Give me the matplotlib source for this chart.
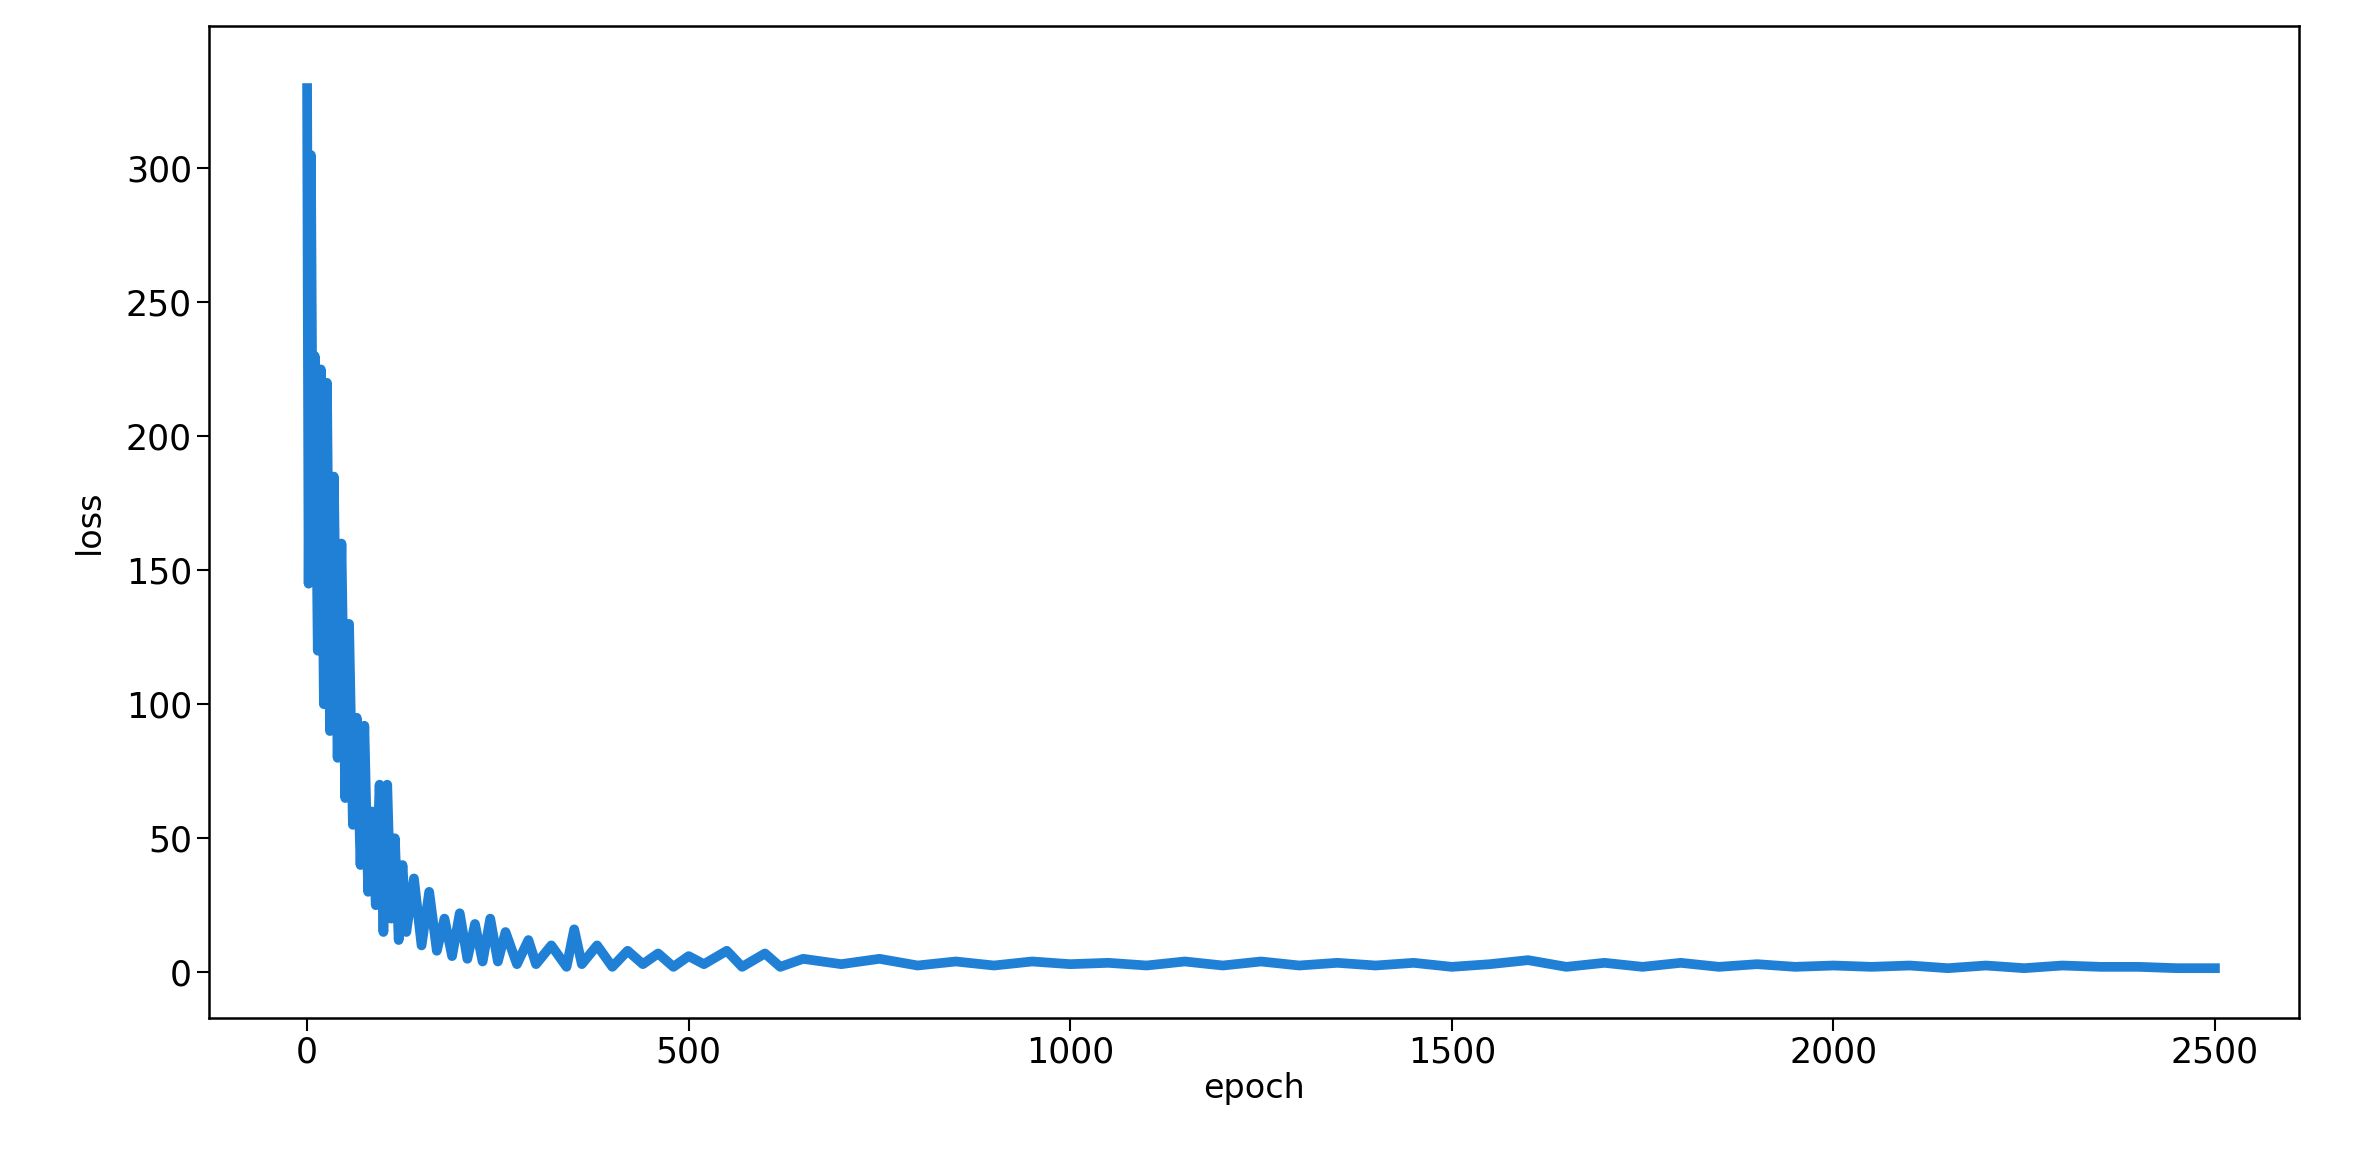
import matplotlib
matplotlib.use("Agg")
import matplotlib.pyplot as plt

epochs = [0, 2, 5, 8, 10, 14, 18, 22, 26, 30, 35, 40, 45, 50, 55, 60, 65, 70, 75, 80,
          85, 90, 95, 100, 105, 110, 115, 120, 125, 130, 140, 150, 160, 170, 180, 190,
          200, 210, 220, 230, 240, 250, 260, 275, 290, 300, 320, 340, 350, 360, 380,
          400, 420, 440, 460, 480, 500, 520, 550, 570, 600, 620, 650, 700, 750, 800,
          850, 900, 950, 1000, 1050, 1100, 1150, 1200, 1250, 1300, 1350, 1400, 1450,
          1500, 1550, 1600, 1650, 1700, 1750, 1800, 1850, 1900, 1950, 2000, 2050, 2100,
          2150, 2200, 2250, 2300, 2350, 2400, 2450, 2500]
loss = [330, 145, 305, 150, 230, 120, 225, 100, 220, 90, 185, 80, 160, 65, 130, 55, 95,
        40, 92, 30, 60, 25, 70, 15, 70, 20, 50, 12, 40, 15, 35, 10, 30, 8, 20, 6,
        22, 5, 18, 4, 20, 4, 15, 3, 12, 3, 10, 2, 16, 3, 10,
        2, 8, 3, 7, 2, 6, 3, 8, 2, 7, 2, 5, 3, 5, 2.5,
        4, 2.5, 4, 3, 3.5, 2.5, 4, 2.5, 4, 2.5, 3.5, 2.5, 3.5,
        2, 3, 4.5, 2, 3.5, 2, 3.5, 2, 3, 2, 2.5, 2, 2.5,
        1.5, 2.5, 1.5, 2.5, 2, 2, 1.5, 1.5]

fig = plt.figure(figsize=(23.53, 11.5), dpi=100)
ax = fig.add_axes([0.089, 0.115, 0.888, 0.862])
ax.plot(epochs, loss, color="#2080d6", lw=7, solid_joinstyle="round")

ax.set_xlim(-128, 2610)
ax.set_ylim(-17, 353)
ax.set_xticks([0, 500, 1000, 1500, 2000, 2500])
ax.set_yticks([0, 50, 100, 150, 200, 250, 300])
ax.tick_params(labelsize=25, length=9, width=1.5)
ax.set_xlabel("epoch", fontsize=24, labelpad=2)
ax.set_ylabel("loss", fontsize=24, labelpad=14)
for s in ax.spines.values():
    s.set_linewidth(1.8)

fig.savefig("out.png", dpi=100)
